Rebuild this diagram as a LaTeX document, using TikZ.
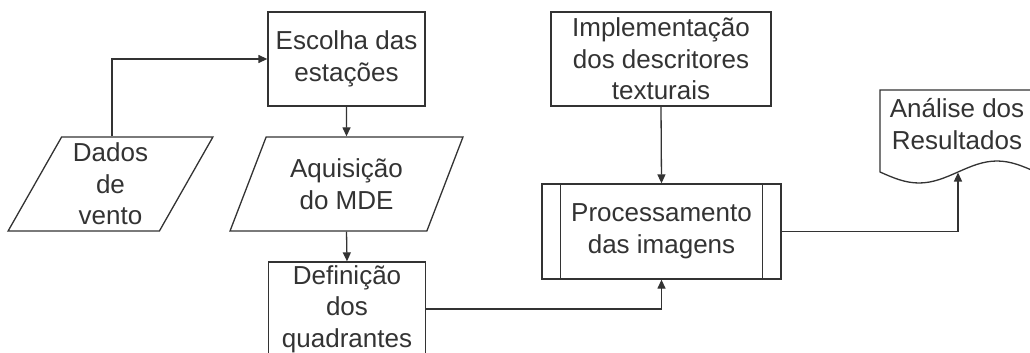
\documentclass[tikz,border=0pt]{standalone}
\usepackage{fontspec}
\setmainfont{Liberation Sans}
\usetikzlibrary{arrows.meta,shapes.geometric}
\definecolor{ink}{gray}{0.2}
\tikzset{
  every node/.style={font=\fontsize{26}{31.5}\selectfont, text=ink, align=center, inner sep=0pt},
  procbox/.style={draw=ink, line width=1.3pt, rectangle, minimum width=#1, minimum height=94pt},
  iobox/.style={draw=ink, line width=1.3pt, trapezium, trapezium left angle=63.4, trapezium right angle=116.6,
    trapezium stretches=true, minimum width=#1, minimum height=94pt},
  arr/.style={draw=ink, line width=1.3pt, -{Triangle[length=9pt,width=8pt]}},
  shapeline/.style={draw=ink, line width=1.3pt}
}
\begin{document}
\begin{tikzpicture}[x=1pt,y=-1pt]
\clip (0,0) rectangle (1030,353);
\fill[white] (0,0) rectangle (1030,353);
% nodes
\node[procbox=157pt] (esc) at (346.5,59) {Escolha das\\estações};
\node[iobox=205pt] (dados) at (110.5,184) {Dados\\de\\vento};
\node[iobox=233pt] (aqu) at (346.5,184) {Aquisição\\do MDE};
\node[procbox=157pt] (def) at (347,309) {Definição\\dos\\quadrantes};
\node[procbox=220pt] (impl) at (661,59) {Implementação\\dos descritores\\texturais};
\node[procbox=239pt, minimum height=95pt] (proc) at (661.5,231.5) {Processamento\\das imagens};
\draw[shapeline] ([xshift=19pt]proc.north west) -- ([xshift=19pt]proc.south west)
                 ([xshift=-19pt]proc.north east) -- ([xshift=-19pt]proc.south east);
% document shape
\node (doc) at (957,124) {Análise dos\\Resultados};
\draw[shapeline] (880,172) sin (919,183) cos (958,172) sin (997,161) cos (1036,172)
  -- (1036,90) -- (880,90) -- cycle;
\coordinate (wavept) at (958,172.5);
% connectors
\draw[arr] ([xshift=1.5pt]dados.north) |- (esc.west);
\draw[arr] (esc.south) -- (aqu.north);
\draw[arr] (aqu.south) -- (def.north);
\draw[arr] (def.east) -| (proc.south);
\draw[arr] (impl.south) -- (proc.north);
\draw[arr] (proc.east) -| (wavept);
\end{tikzpicture}
\end{document}
